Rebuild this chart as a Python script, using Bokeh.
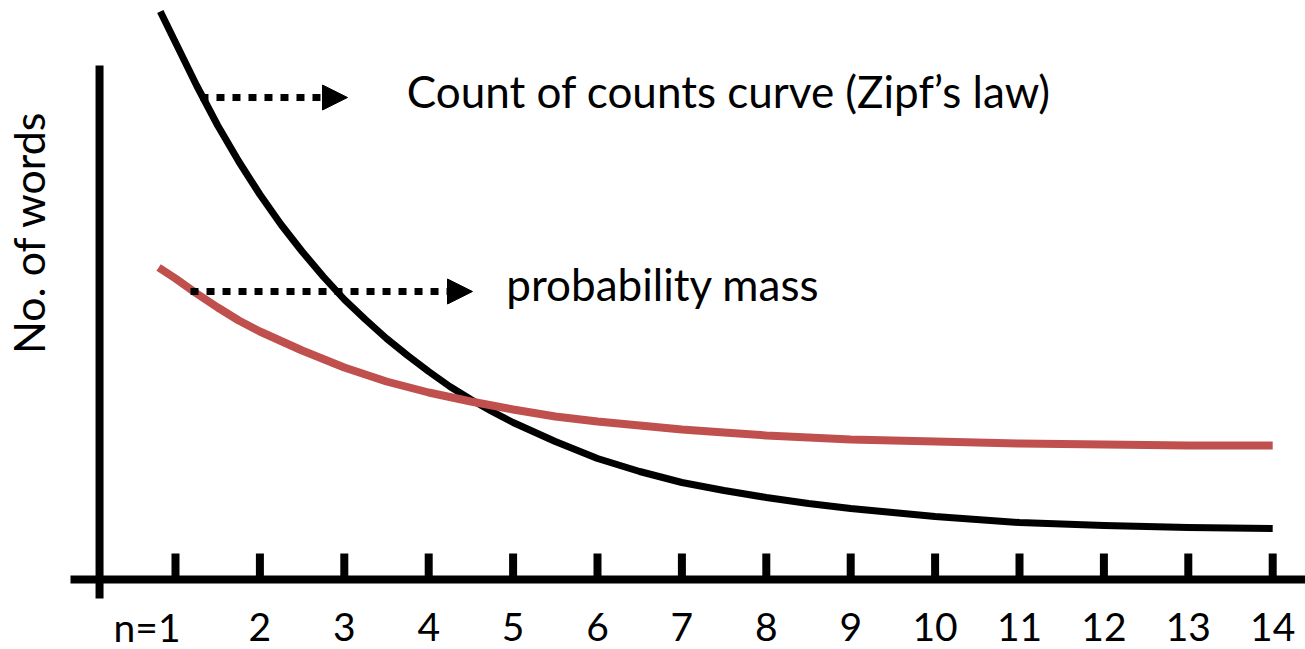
from bokeh.plotting import figure
from bokeh.models import ColumnDataSource, Range1d, Arrow, NormalHead
from bokeh.core.properties import value
from bokeh.embed import file_html
from bokeh.resources import INLINE
import math

# ---- data ----
tick_values = [1, 2, 3, 4, 5, 6, 7, 8, 9, 10, 11, 12, 13, 14]
tick_labels = ["n=1", "2", "3", "4", "5", "6", "7", "8", "9", "10", "11", "12", "13", "14"]

zipf_n = [0.82, 1.0, 1.25, 1.5, 1.75, 2.0, 2.25, 2.5, 2.75, 3.0, 3.25, 3.5, 3.75, 4.0, 4.25,
          4.5, 4.75, 5.0, 5.5, 6.0, 6.5, 7.0, 7.5, 8.0, 8.5, 9.0, 10.0, 11.0, 12.0, 13.0, 14.0]
zipf_words = [568, 537, 494, 454, 418, 385, 355, 328, 303, 280, 260, 241, 224, 208, 193,
              180, 168, 157, 138, 121, 108, 97, 89, 82, 76, 71, 63, 57, 54, 52, 51]

mass_n = [0.8, 1.0, 1.25, 1.5, 1.75, 2.0, 2.5, 3.0, 3.5, 4.0, 4.5, 5.0, 5.5, 6.0, 6.5, 7.0,
          7.5, 8.0, 9.0, 10.0, 11.0, 12.0, 13.0, 14.0]
mass_words = [312, 301, 286, 272, 259, 248, 229, 212, 198, 187, 178, 170, 163, 158, 154, 150,
              147, 144, 140, 138, 136, 135, 134, 134]

zipf_label = "Count of counts curve (Zipf\u2019s law)"
mass_label = "probability mass"
y_label = "No. of words"

FONT = "Lato"
RED = "#C0504D"

W, H = 1305, 649
PX = 84.4  # pixels per unit of n
x0 = 1 - 175 / PX
p = figure(width=W, height=H, output_backend="svg", toolbar_location=None,
           x_range=Range1d(x0, x0 + W / PX), y_range=Range1d(-70, 579),
           x_axis_type=None, y_axis_type=None, min_border=0)
p.outline_line_color = None
p.grid.visible = False
p.background_fill_color = "white"
p.border_fill_color = "white"

# axes drawn as thick lines
p.segment(x0=[-0.244], y0=[0], x1=[x0 + W / PX + 1], y1=[0], line_color="black",
          line_width=8, line_cap="butt")
p.segment(x0=[0.1], y0=[-19], x1=[0.1], y1=[514], line_color="black",
          line_width=8, line_cap="butt")

n_t = len(tick_values)
tick_src = ColumnDataSource(dict(x=tick_values, y0=[0] * n_t, y1=[26] * n_t))
p.segment(x0="x", y0="y0", x1="x", y1="y1", source=tick_src, line_color="black",
          line_width=8, line_cap="butt")
lab_src = ColumnDataSource(dict(x=tick_values, y=[-47] * n_t, lab=tick_labels,
                                align=["right"] + ["center"] * (n_t - 1),
                                off=[5] + [0] * (n_t - 1)))
p.text(x="x", y="y", text="lab", source=lab_src, text_align="align", x_offset="off",
       text_baseline="alphabetic", text_font=value(FONT), text_font_size="39px",
       text_color="black")

# curves
p.line(zipf_n, zipf_words, line_color="black", line_width=7, line_join="round")
p.line(mass_n, mass_words, line_color=RED, line_width=8, line_join="round")

# arrows
p.add_layout(Arrow(end=NormalHead(size=25, fill_color="black", line_color="black", line_width=1),
                   x_start=1.296, y_start=482, x_end=3.038, y_end=482,
                   line_color="black", line_width=7, line_dash="8 8"))
p.add_layout(Arrow(end=NormalHead(size=25, fill_color="black", line_color="black", line_width=1),
                   x_start=1.178, y_start=288, x_end=4.519, y_end=288,
                   line_color="black", line_width=7, line_dash="8 8"))

# annotation texts
p.text(x=[3.74], y=[489], text=[zipf_label], text_font=value(FONT), text_font_size="44px",
       text_baseline="alphabetic", text_align="left", text_color="black")
p.text(x=[4.92], y=[296], text=[mass_label], text_font=value(FONT), text_font_size="44px",
       text_baseline="alphabetic", text_align="left", text_color="black")
p.text(x=[-0.742], y=[347], text=[y_label], angle=math.pi / 2, text_font=value(FONT),
       text_font_size="43px", text_baseline="alphabetic", text_align="center",
       text_color="black")

open("out.html", "w").write(file_html(p, INLINE))
